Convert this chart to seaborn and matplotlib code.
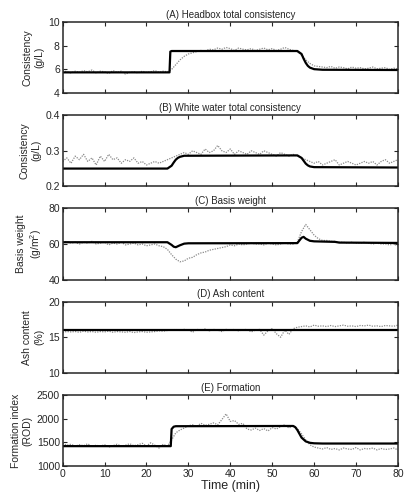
import numpy as np
import pandas as pd
import seaborn as sns
import matplotlib.pyplot as plt

# measured data, one sample per minute
time_meas = list(range(81))

headbox_meas = [5.9, 5.8, 5.7, 5.85, 5.75, 5.9, 5.8, 5.95, 5.7, 5.85, 5.8, 5.65, 5.9,
                5.75, 5.85, 5.6, 5.75, 5.8, 5.7, 5.85, 5.75, 5.8, 5.9, 5.75, 5.85, 5.8,
                6.0, 6.4, 6.8, 7.1, 7.3, 7.4, 7.5, 7.6, 7.55, 7.7, 7.65, 7.8, 7.7, 7.85,
                7.75, 7.6, 7.8, 7.7, 7.65, 7.75, 7.6, 7.7, 7.8, 7.65, 7.75, 7.6, 7.7,
                7.85, 7.7, 7.6, 7.5,
                7.2, 6.8, 6.5, 6.3, 6.25, 6.2, 6.15, 6.25, 6.1, 6.2, 6.15, 6.05, 6.2,
                6.1, 6.15, 6.05, 6.1, 6.2, 6.05, 6.1, 6.15, 6.0, 6.1, 6.05]

white_meas = [0.27, 0.28, 0.265, 0.285, 0.275, 0.29, 0.27, 0.28, 0.26, 0.285, 0.27, 0.29,
              0.275, 0.28, 0.265, 0.275, 0.27, 0.28, 0.265, 0.27, 0.26, 0.265, 0.27, 0.265,
              0.27, 0.275,
              0.28, 0.285, 0.29, 0.295, 0.29, 0.3, 0.295, 0.29, 0.305, 0.295, 0.3, 0.315,
              0.3, 0.295, 0.305, 0.29, 0.3, 0.295, 0.29, 0.3, 0.295, 0.29, 0.3, 0.295,
              0.29, 0.285, 0.295, 0.29, 0.285, 0.29, 0.285,
              0.28, 0.275, 0.27, 0.265, 0.27, 0.26, 0.265, 0.27, 0.275, 0.26, 0.265, 0.27,
              0.265, 0.26, 0.265, 0.27, 0.265, 0.27, 0.26, 0.27, 0.275, 0.265, 0.27, 0.275]

basis_meas = [61, 61.5, 60.5, 61, 60, 61, 60.5, 61.5, 60, 60.5, 61, 59.5, 60.5, 60, 61,
              59.5, 60, 60.5, 59.5, 60, 59, 59.5, 60, 59, 58.5, 57,
              54, 51.5, 50, 50.5, 52, 52.5, 54, 55, 55.5, 56.5, 57, 57.5, 58, 58.5, 59.5,
              59, 60, 59.5, 60, 60.5, 60, 60, 59.5, 60.5, 60, 59.5, 60, 60.5, 60, 60, 61,
              67, 71, 68, 65, 63, 62, 62, 61.5, 61.5, 61, 61, 60.5, 61, 60.5, 60.5, 61,
              60.5, 60, 60.5, 60, 60, 59.5, 60, 59]

ash_meas = [15.7, 15.8, 15.75, 15.8, 15.7, 15.85, 15.75, 15.8, 15.7, 15.8, 15.75, 15.85,
            15.7, 15.8, 15.75, 15.7, 15.8, 15.65, 15.75, 15.8, 15.7, 15.75, 15.8, 15.9,
            15.85, 15.95,
            16.0, 16.1, 15.95, 16.1, 16.05, 15.7, 16.1, 16.0, 16.15, 15.9, 16.1, 16.0,
            15.8, 16.1, 16.0, 16.1, 15.9, 16.05, 16.1, 15.75, 16.0, 16.1, 15.3, 15.9,
            16.2, 15.5, 15.0, 16.0, 15.4, 16.2, 16.4,
            16.5, 16.6, 16.45, 16.7, 16.55, 16.6, 16.5, 16.65, 16.5, 16.6, 16.7, 16.55,
            16.6, 16.5, 16.65, 16.6, 16.7, 16.55, 16.6, 16.5, 16.65, 16.6, 16.55, 16.7]

formation_meas = [1480, 1440, 1460, 1420, 1450, 1430, 1470, 1410, 1440, 1420, 1450, 1400,
                  1430, 1460, 1420, 1440, 1470, 1430, 1450, 1480, 1420, 1490, 1440, 1380,
                  1460, 1420,
                  1550, 1700, 1760, 1800, 1850, 1870, 1840, 1900, 1860, 1880, 1910, 1870,
                  1980, 2100, 1940, 1960, 1880, 1900, 1780, 1760, 1800, 1750, 1790, 1740,
                  1810, 1780, 1830, 1870, 1800, 1850, 1790,
                  1680, 1550, 1450, 1400, 1380, 1360, 1390, 1350, 1370, 1340, 1380, 1360,
                  1350, 1390, 1340, 1370, 1360, 1380, 1340, 1370, 1350, 1360, 1380, 1340]

# model predictions
headbox_t = [0, 25.5, 25.7, 26, 56, 57, 57.5, 58, 58.5, 59, 60, 62, 80]
headbox_mod = [5.75, 5.75, 7.5, 7.55, 7.55, 7.3, 6.9, 6.55, 6.3, 6.15, 6.02, 5.97, 5.95]

white_t = [0, 25, 26, 26.5, 27, 27.5, 28, 29, 56, 57, 57.5, 58, 58.5, 59, 60, 80]
white_mod = [0.25, 0.25, 0.258, 0.267, 0.275, 0.28, 0.283, 0.286, 0.287, 0.28, 0.272,
             0.264, 0.259, 0.256, 0.254, 0.253]

basis_t = [0, 25, 26, 26.5, 27, 28, 29, 30, 56, 56.5, 57, 57.5, 58, 59, 60, 65, 66, 80]
basis_mod = [61, 61, 59.5, 58.5, 58.2, 59.3, 60.2, 60.4, 60.5, 62, 63.5, 64, 63, 61.8,
             61.5, 61.2, 60.8, 60.6]

ash_t = [0, 80]
ash_mod = [16.0, 16.0]

formation_t = [0, 25.8, 26, 26.5, 27, 55, 55.5, 56, 56.5, 57, 58, 59, 60, 62, 80]
formation_mod = [1420, 1420, 1780, 1830, 1840, 1845, 1820, 1760, 1680, 1600, 1520, 1490,
                 1480, 1475, 1475]

titles = ["(A) Headbox total consistency", "(B) White water total consistency",
          "(C) Basis weight", "(D) Ash content", "(E) Formation"]
ylabels = ["Consistency\n(g/L)", "Consistency\n(g/L)", "Basis weight\n(g/m$^2$)",
           "Ash content\n(%)", "Formation index\n(ROD)"]
ylims = [(4, 10), (0.2, 0.4), (40, 80), (10, 20), (1000, 2500)]
yticks = [[4, 6, 8, 10], [0.2, 0.3, 0.4], [40, 60, 80], [10, 15, 20],
          [1000, 1500, 2000, 2500]]

meas = [headbox_meas, white_meas, basis_meas, ash_meas, formation_meas]
mod_t = [headbox_t, white_t, basis_t, ash_t, formation_t]
mod = [headbox_mod, white_mod, basis_mod, ash_mod, formation_mod]

sns.set_style("ticks")
plt.rcParams["font.family"] = ["Liberation Sans", "DejaVu Sans"]
plt.rcParams["mathtext.fontset"] = "custom"
plt.rcParams["mathtext.rm"] = "Liberation Sans"

fig, axes = plt.subplots(5, 1, figsize=(4.04, 4.99), dpi=100, sharex=True)
fig.subplots_adjust(left=0.155, right=0.985, top=0.956, bottom=0.066, hspace=0.31)

for i, ax in enumerate(axes):
    d_meas = pd.DataFrame({"t": time_meas, "v": meas[i]})
    d_mod = pd.DataFrame({"t": mod_t[i], "v": mod[i]})
    sns.lineplot(data=d_meas, x="t", y="v", ax=ax, color="#8a8a8a", lw=0.9,
                 linestyle=(0, (1, 1)), estimator=None, sort=False)
    sns.lineplot(data=d_mod, x="t", y="v", ax=ax, color="black", lw=1.6,
                 estimator=None, sort=False)
    ax.set_xlim(0, 80)
    ax.set_ylim(*ylims[i])
    ax.set_yticks(yticks[i])
    ax.set_xticks(range(0, 81, 10))
    ax.set_title(titles[i], fontsize=7, pad=3)
    ax.set_ylabel(ylabels[i], fontsize=7.5, labelpad=3)
    ax.set_xlabel("")
    ax.tick_params(direction="in", top=True, right=True, length=3, width=0.8,
                   labelsize=7.5, pad=2)
    for s in ax.spines.values():
        s.set_linewidth(1.1)

axes[-1].set_xlabel("Time (min)", fontsize=9, labelpad=1)

plt.savefig("out.png", dpi=100)
